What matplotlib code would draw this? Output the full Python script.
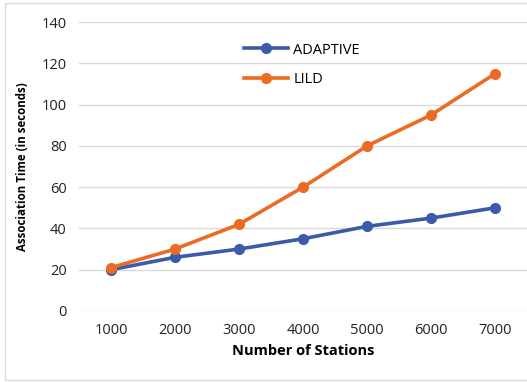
import matplotlib
matplotlib.use("Agg")
import matplotlib.pyplot as plt
from matplotlib.patches import Rectangle

stations = ["1000", "2000", "3000", "4000", "5000", "6000", "7000"]
adaptive = [20, 26, 30, 35, 41, 45, 50]
lild = [21, 30, 42, 60, 80, 95, 115]

blue = "#3A5BAA"
orange = "#EC6B23"

fig = plt.figure(figsize=(5.27, 3.82), dpi=100)
ax = fig.add_axes([0.15, 0.186, 0.85, 0.756])

x = range(1, len(stations) + 1)
ax.plot(x, adaptive, color=blue, lw=2.6, marker="o", ms=7, label="ADAPTIVE", zorder=3)
ax.plot(x, lild, color=orange, lw=2.6, marker="o", ms=7, label="LILD", zorder=3)

ax.set_xlim(0.5, 7.5)
ax.set_ylim(0, 140)
ax.set_yticks(range(0, 141, 20))
ax.set_xticks(list(x))
ax.set_xticklabels(stations)
ax.grid(axis="y", color="#d9d9d9", lw=1)
ax.set_axisbelow(True)
for s in ax.spines.values():
    s.set_visible(False)
ax.tick_params(length=0, labelsize=10.5, labelcolor="#222222", pad=9)
for lab in ax.get_xticklabels() + ax.get_yticklabels():
    lab.set_family("Open Sans")

ax.set_xlabel("Number of Stations", fontsize=10.5, fontweight="bold", family="Open Sans", labelpad=4)
ax.set_ylabel("Association Time (in seconds)", fontsize=8.3, fontweight="bold", family="Open Sans", labelpad=9)

leg = ax.legend(loc="upper left", bbox_to_anchor=(0.34, 0.975), frameon=False,
                handlelength=3.0, handletextpad=0.35, labelspacing=1.0,
                prop={"family": "Open Sans", "size": 10.5})

fig.add_artist(Rectangle((5 / 527, 2 / 382), 530 / 527, 377 / 382, transform=fig.transFigure,
                         fill=False, edgecolor="#d9d9d9", lw=1))

fig.savefig("out.png", dpi=100)
